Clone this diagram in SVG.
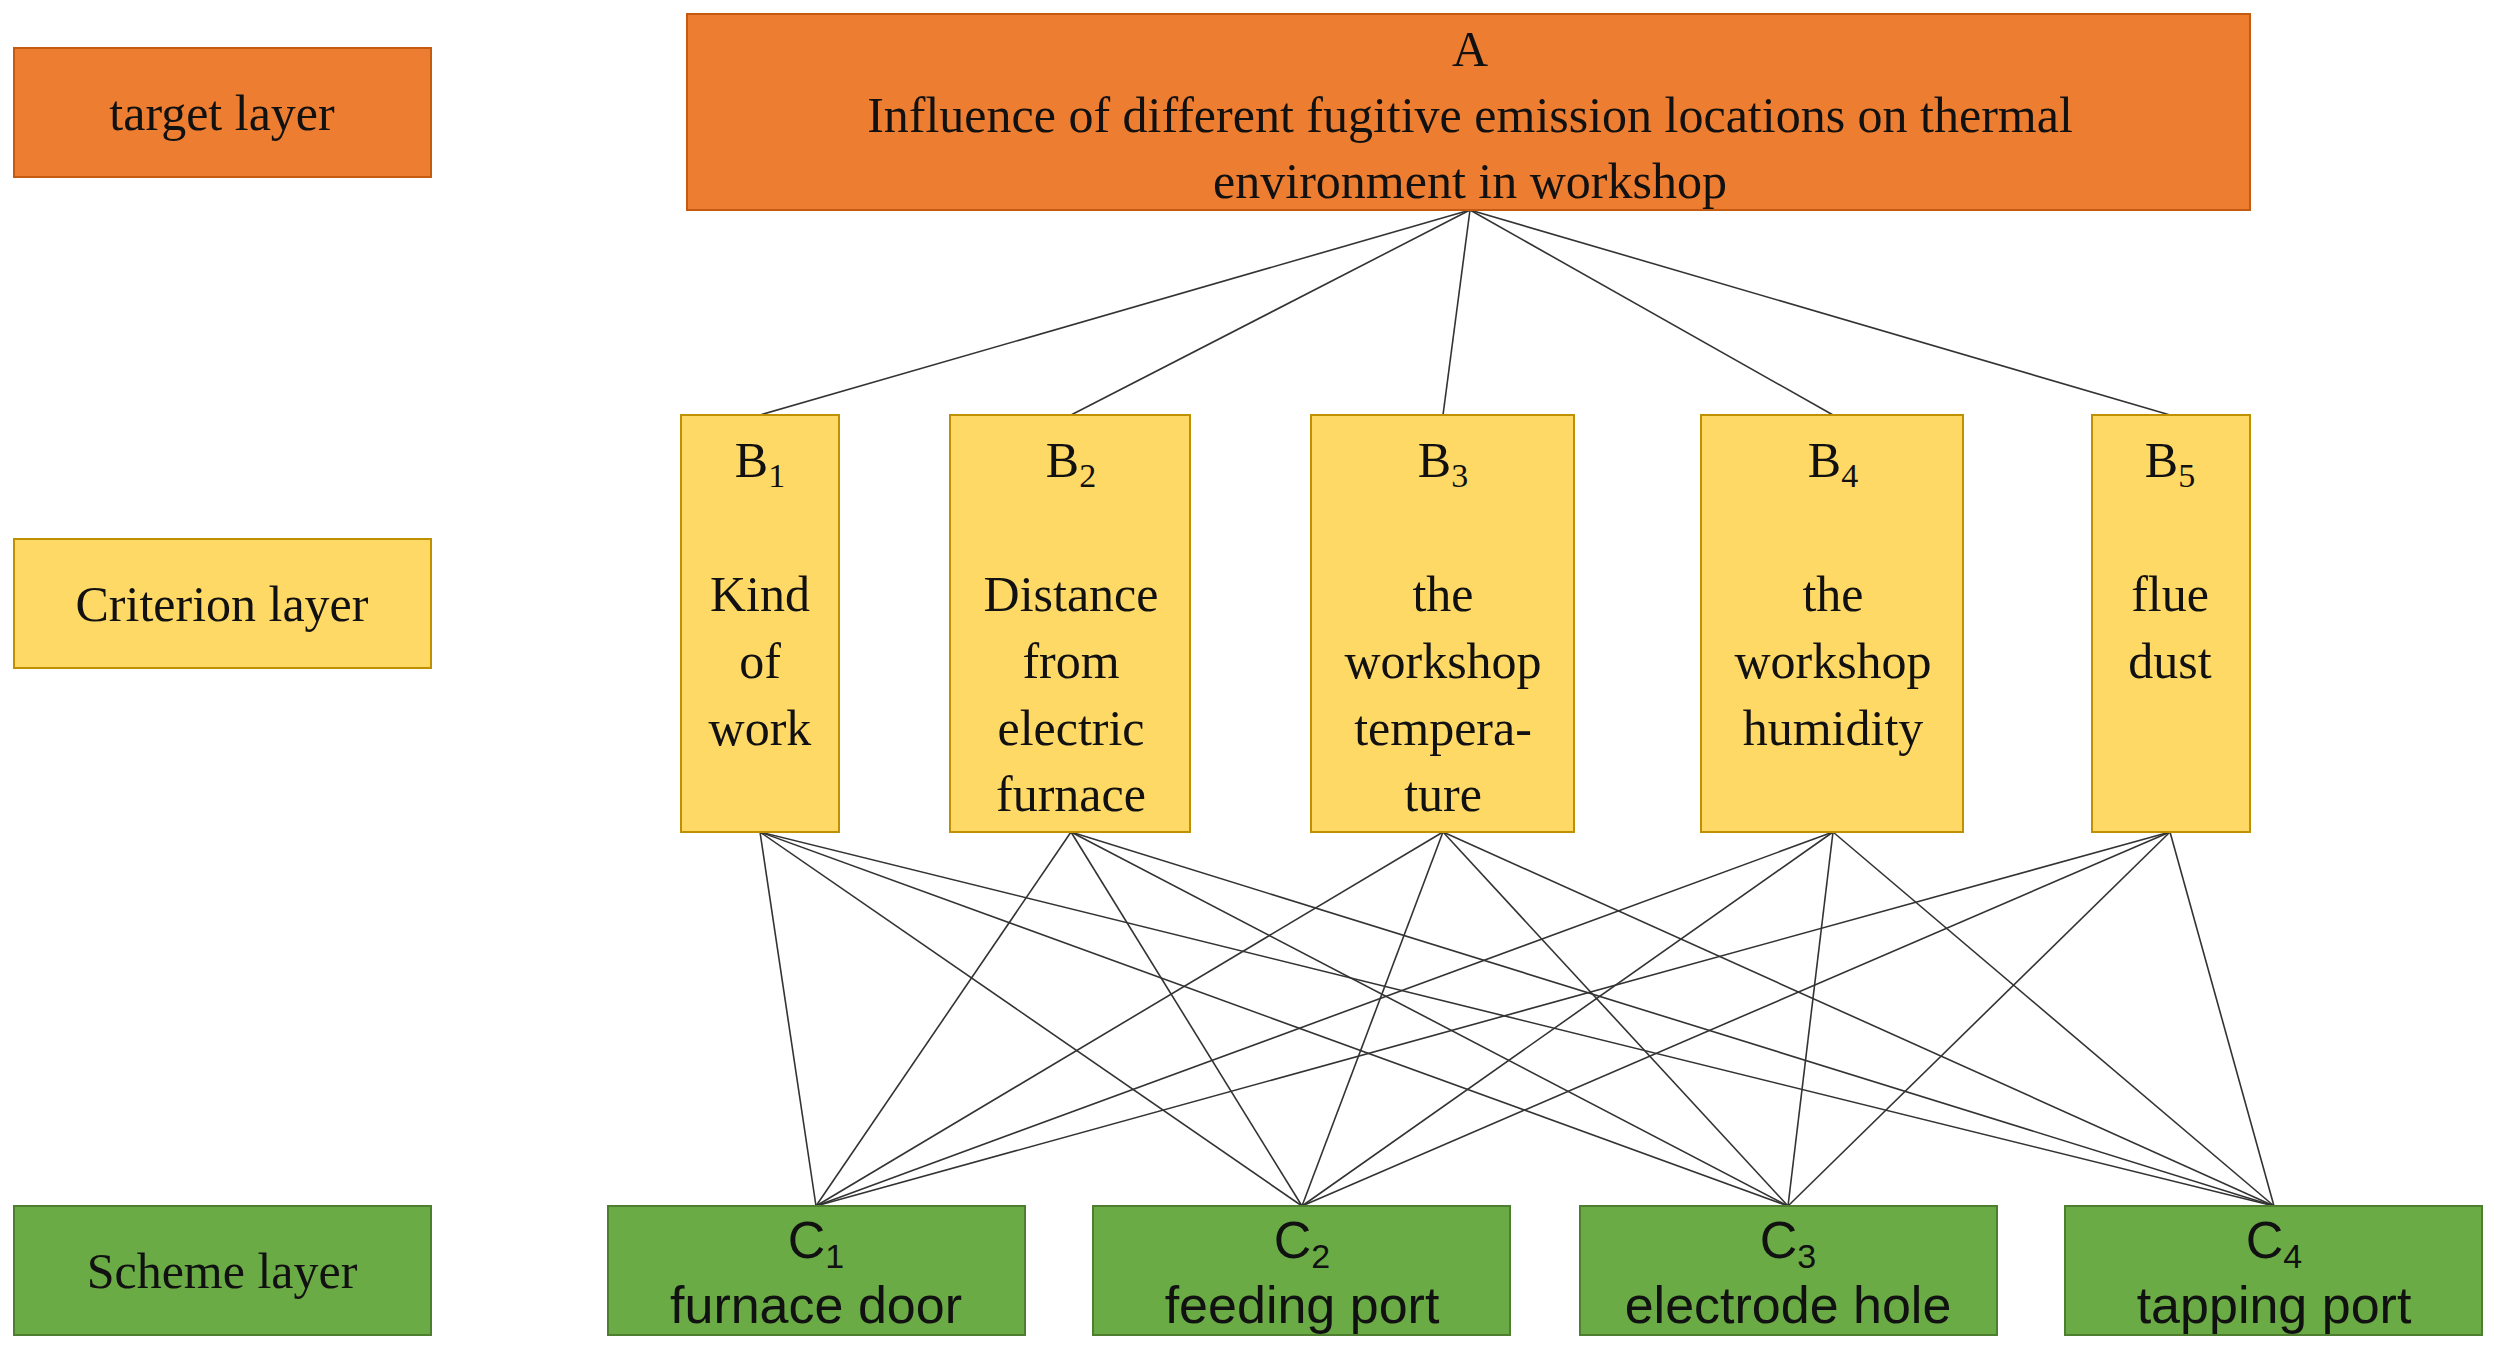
<svg xmlns="http://www.w3.org/2000/svg" width="2495" height="1355" viewBox="0 0 2495 1355">
<style>
.o{fill:#ED7D31;stroke:#C55A11;stroke-width:2}
.y{fill:#FFD966;stroke:#BF9000;stroke-width:2}
.g{fill:#6AAB45;stroke:#4E7F30;stroke-width:2}
.t{font-family:"Liberation Serif",serif;font-size:50px;fill:#111;text-anchor:middle}
.s{font-family:"Liberation Sans",Arial,sans-serif;font-size:52px;fill:#111;text-anchor:middle}
.sub{font-size:34px}
#conn line{stroke:#333;stroke-width:1.6}
</style>
<rect width="2495" height="1355" fill="#fff"/>
<g id="conn">
<line x1="1470" y1="210" x2="760" y2="415"/><line x1="1470" y1="210" x2="1071" y2="415"/><line x1="1470" y1="210" x2="1443" y2="415"/><line x1="1470" y1="210" x2="1833" y2="415"/><line x1="1470" y1="210" x2="2170" y2="415"/>
<line x1="760" y1="832" x2="816" y2="1206"/><line x1="760" y1="832" x2="1302" y2="1206"/><line x1="760" y1="832" x2="1788" y2="1206"/><line x1="760" y1="832" x2="2274" y2="1206"/>
<line x1="1071" y1="832" x2="816" y2="1206"/><line x1="1071" y1="832" x2="1302" y2="1206"/><line x1="1071" y1="832" x2="1788" y2="1206"/><line x1="1071" y1="832" x2="2274" y2="1206"/>
<line x1="1443" y1="832" x2="816" y2="1206"/><line x1="1443" y1="832" x2="1302" y2="1206"/><line x1="1443" y1="832" x2="1788" y2="1206"/><line x1="1443" y1="832" x2="2274" y2="1206"/>
<line x1="1833" y1="832" x2="816" y2="1206"/><line x1="1833" y1="832" x2="1302" y2="1206"/><line x1="1833" y1="832" x2="1788" y2="1206"/><line x1="1833" y1="832" x2="2274" y2="1206"/>
<line x1="2170" y1="832" x2="816" y2="1206"/><line x1="2170" y1="832" x2="1302" y2="1206"/><line x1="2170" y1="832" x2="1788" y2="1206"/><line x1="2170" y1="832" x2="2274" y2="1206"/>
</g>
<g id="target"><rect class="o" x="14" y="48" width="417" height="129"/><text class="t" x="222" y="130">target layer</text></g>
<g id="criterion"><rect class="y" x="14" y="539" width="417" height="129"/><text class="t" x="222" y="621">Criterion layer</text></g>
<g id="scheme"><rect class="g" x="14" y="1206" width="417" height="129"/><text class="t" x="222" y="1288">Scheme layer</text></g>
<g id="A"><rect class="o" x="687" y="14" width="1563" height="196"/>
<text class="t" x="1470" y="66">A</text>
<text class="t" x="1470" y="132">Influence of different fugitive emission locations on thermal</text>
<text class="t" x="1470" y="198">environment in workshop</text></g>
<g id="B1"><rect class="y" x="681" y="415" width="158" height="417"/>
<text class="t" x="760" y="477">B<tspan class="sub" dy="10">1</tspan></text>
<text class="t" x="760" y="611">Kind</text><text class="t" x="760" y="678">of</text><text class="t" x="760" y="745">work</text></g>
<g id="B2"><rect class="y" x="950" y="415" width="240" height="417"/>
<text class="t" x="1071" y="477">B<tspan class="sub" dy="10">2</tspan></text>
<text class="t" x="1071" y="611">Distance</text><text class="t" x="1071" y="678">from</text><text class="t" x="1071" y="745">electric</text><text class="t" x="1071" y="811">furnace</text></g>
<g id="B3"><rect class="y" x="1311" y="415" width="263" height="417"/>
<text class="t" x="1443" y="477">B<tspan class="sub" dy="10">3</tspan></text>
<text class="t" x="1443" y="611">the</text><text class="t" x="1443" y="678">workshop</text><text class="t" x="1443" y="745">tempera-</text><text class="t" x="1443" y="811">ture</text></g>
<g id="B4"><rect class="y" x="1701" y="415" width="262" height="417"/>
<text class="t" x="1833" y="477">B<tspan class="sub" dy="10">4</tspan></text>
<text class="t" x="1833" y="611">the</text><text class="t" x="1833" y="678">workshop</text><text class="t" x="1833" y="745">humidity</text></g>
<g id="B5"><rect class="y" x="2092" y="415" width="158" height="417"/>
<text class="t" x="2170" y="477">B<tspan class="sub" dy="10">5</tspan></text>
<text class="t" x="2170" y="611">flue</text><text class="t" x="2170" y="678">dust</text></g>
<g id="C1"><rect class="g" x="608" y="1206" width="417" height="129"/>
<text class="s" x="816" y="1258">C<tspan class="sub" dy="10">1</tspan></text><text class="s" x="816" y="1323">furnace door</text></g>
<g id="C2"><rect class="g" x="1093" y="1206" width="417" height="129"/>
<text class="s" x="1302" y="1258">C<tspan class="sub" dy="10">2</tspan></text><text class="s" x="1302" y="1323">feeding port</text></g>
<g id="C3"><rect class="g" x="1580" y="1206" width="417" height="129"/>
<text class="s" x="1788" y="1258">C<tspan class="sub" dy="10">3</tspan></text><text class="s" x="1788" y="1323">electrode hole</text></g>
<g id="C4"><rect class="g" x="2065" y="1206" width="417" height="129"/>
<text class="s" x="2274" y="1258">C<tspan class="sub" dy="10">4</tspan></text><text class="s" x="2274" y="1323">tapping port</text></g>
</svg>
